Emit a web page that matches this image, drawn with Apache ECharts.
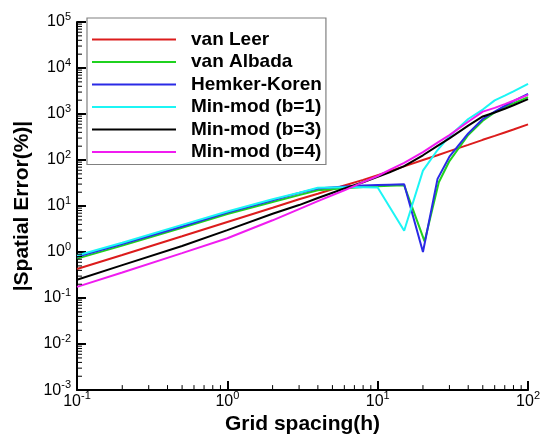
<!DOCTYPE html>
<html><head><meta charset="utf-8">
<script src="https://cdn.jsdelivr.net/npm/echarts@6/dist/echarts.min.js"></script>
<style>html,body{margin:0;padding:0;background:#fff}#c{width:543px;height:440px}</style>
</head><body><div id="c"></div>
<script>
// ---- data ----
const seriesNames = ['van Leer', 'van Albada', 'Hemker-Koren', 'Min-mod (b=1)', 'Min-mod (b=3)', 'Min-mod (b=4)'];
const seriesColors = ['#dc1c1c', '#1fd21f', '#2a2ae6', '#1cf5f5', '#000000', '#f01cf0'];

const hVanLeer = [0.1, 0.2, 0.5, 1, 2, 3, 4, 6, 8, 10, 12, 15, 20, 25, 30, 40, 50, 60, 70, 80, 100];
const errVanLeer = [0.43, 0.86, 2.2, 4.5, 9.2, 14, 18.5, 28, 37, 47, 57, 73, 100, 127, 156, 214, 275, 335, 398, 460, 595];

const hVanAlbada = [0.1, 0.2, 0.5, 1, 2, 3, 4, 6, 8, 10, 12, 15, 20.5, 25.5, 30, 40, 50, 60, 70, 80, 100];
const errVanAlbada = [0.72, 1.38, 3.35, 6.7, 12.3, 17.3, 22, 24.5, 26, 27, 27.6, 28.2, 1.7, 33, 95, 350, 715, 1085, 1425, 1710, 2330];

const hHemker = [0.1, 0.2, 0.5, 1, 2, 3, 4, 6, 8, 10, 12, 15, 20, 25, 30, 40, 50, 60, 70, 80, 100];
const errHemker = [0.79, 1.5, 3.6, 7.2, 13.4, 19.2, 24, 26.5, 27.8, 28.6, 29.2, 29.7, 1.0, 39, 118, 380, 780, 1130, 1500, 1900, 2750];

const hMinmod1 = [0.1, 0.2, 0.5, 1, 2, 3, 4, 6, 8, 10, 15, 20, 25, 30, 40, 50, 60, 70, 80, 100];
const errMinmod1 = [0.84, 1.6, 3.9, 7.6, 14, 19.5, 25, 25.5, 25.5, 25.3, 2.9, 59, 165, 330, 780, 1250, 1980, 2500, 3100, 4500];

const hMinmod3 = [0.1, 0.2, 0.5, 1, 2, 3, 4, 6, 8, 10, 12, 15, 20, 25, 30, 40, 50, 60, 70, 80, 100];
const errMinmod3 = [0.25, 0.52, 1.35, 3.0, 6.8, 10.5, 15, 24, 33, 43, 54, 74, 127, 203, 295, 558, 885, 1080, 1300, 1550, 2100];

const hMinmod4 = [0.1, 0.2, 0.5, 1, 2, 3, 4, 6, 8, 10, 12, 15, 20, 25, 30, 40, 50, 60, 70, 80, 100];
const errMinmod4 = [0.175, 0.36, 0.95, 2.0, 4.9, 8.6, 12.8, 22, 33, 45, 61, 87, 149, 239, 349, 680, 1130, 1360, 1640, 1940, 2600];

const xTitle = 'Grid spacing(h)';
const yTitle = '|Spatial Error(%)|';
const xRange = [0.1, 100];
const yRange = [0.001, 100000];

// ---- chart ----
const FONT = '"Liberation Sans", Arial, Helvetica, sans-serif';
const hs = [hVanLeer, hVanAlbada, hHemker, hMinmod1, hMinmod3, hMinmod4];
const es = [errVanLeer, errVanAlbada, errHemker, errMinmod1, errMinmod3, errMinmod4];

const chart = echarts.init(document.getElementById('c'), null, {renderer: 'canvas'});

function powLabel(v) {
  const e = Math.round(Math.log10(v));
  return '{b|10}{s|' + e + '}';
}
const labelRich = {
  b: {fontSize: 16, fontFamily: FONT, color: '#000', lineHeight: 22},
  s: {fontSize: 11, fontFamily: FONT, color: '#000', lineHeight: 12, verticalAlign: 'top'}
};

const series = seriesNames.map((name, i) => ({
  name: name,
  type: 'line',
  symbol: 'none',
  showSymbol: false,
  animation: false,
  clip: true,
  lineStyle: {width: 2, color: seriesColors[i]},
  itemStyle: {color: seriesColors[i]},
  data: hs[i].map((h, j) => [h, es[i][j]])
}));

chart.setOption({
  animation: false,
  backgroundColor: '#fff',
  grid: {left: 77, right: 14, top: 22, bottom: 48, containLabel: false},
  legend: {
    orient: 'vertical',
    left: 87, top: 18,
    data: seriesNames,
    icon: 'path://M0 0H84V2H0Z',
    itemWidth: 84, itemHeight: 14, itemGap: 3.5,
    padding: [12, 4, 3, 5],
    borderColor: '#808080', borderWidth: 1.2,
    backgroundColor: '#fff',
    textStyle: {fontSize: 19, fontWeight: 'bold', color: '#000', fontFamily: FONT, padding: [0, 0, 0, 10]}
  },
  xAxis: {
    type: 'log', logBase: 10, min: xRange[0], max: xRange[1], interval: 1,
    name: xTitle, nameLocation: 'middle', nameGap: 17,
    nameTextStyle: {fontSize: 21, fontWeight: 'bold', color: '#000', fontFamily: FONT},
    axisLine: {show: true, onZero: false, lineStyle: {color: '#000', width: 2}},
    axisTick: {show: true, inside: true, length: 9, lineStyle: {color: '#000', width: 2}},
    axisLabel: {margin: 0, formatter: powLabel, rich: labelRich},
    splitLine: {show: false}
  },
  yAxis: {
    type: 'log', logBase: 10, min: yRange[0], max: yRange[1], interval: 1,
    name: yTitle, nameLocation: 'middle', nameGap: 44,
    nameTextStyle: {fontSize: 21, fontWeight: 'bold', color: '#000', fontFamily: FONT},
    axisLine: {show: true, onZero: false, lineStyle: {color: '#000', width: 2}},
    axisTick: {show: true, inside: true, length: 9, lineStyle: {color: '#000', width: 2}},
    axisLabel: {margin: 6, formatter: powLabel, rich: labelRich},
    splitLine: {show: false}
  },
  series: series
});

// minor log ticks (2..9 per decade), positioned through the axes' own scales
const gfx = [];
const x0 = chart.convertToPixel({xAxisIndex: 0}, xRange[0]);
const y0 = chart.convertToPixel({yAxisIndex: 0}, yRange[0]);
for (let k = -1; k < 2; k++) {
  for (let m = 2; m <= 9; m++) {
    const px = chart.convertToPixel({xAxisIndex: 0}, m * Math.pow(10, k));
    gfx.push({type: 'line', z: 10, silent: true, shape: {x1: px, y1: y0, x2: px, y2: y0 - 5}, style: {stroke: '#000', lineWidth: 1}});
  }
}
for (let k = -3; k < 5; k++) {
  for (let m = 2; m <= 9; m++) {
    const py = chart.convertToPixel({yAxisIndex: 0}, m * Math.pow(10, k));
    gfx.push({type: 'line', z: 10, silent: true, shape: {x1: x0, y1: py, x2: x0 + 5, y2: py}, style: {stroke: '#000', lineWidth: 1}});
  }
}
chart.setOption({graphic: gfx});
</script>
</body></html>
